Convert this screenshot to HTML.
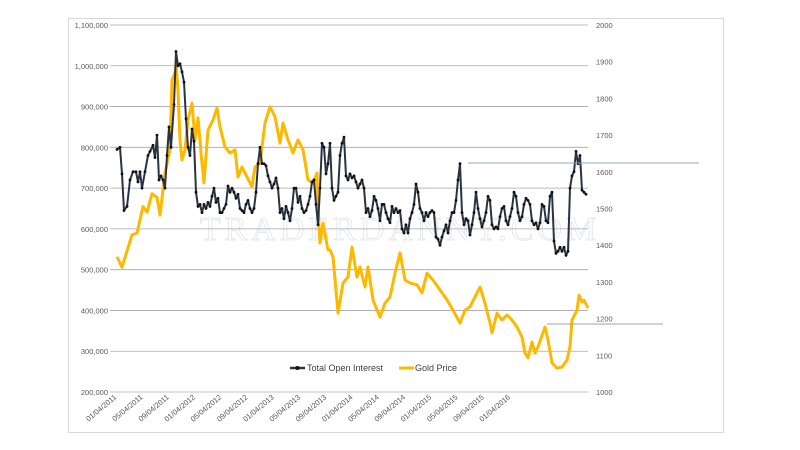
<!DOCTYPE html>
<html><head><meta charset="utf-8"><style>
html,body{margin:0;padding:0;background:#fff;width:800px;height:450px;overflow:hidden;font-family:"Liberation Sans",sans-serif}
</style></head><body>
<svg id="chart" width="800" height="450" xmlns="http://www.w3.org/2000/svg">
<rect x="68.5" y="18.5" width="655" height="414" fill="#fff" stroke="#d9d9d9"/>
<text x="400" y="240" text-anchor="middle" font-family="Liberation Serif, serif" font-size="34" fill="none" stroke="#e6e8ec" stroke-width="1" letter-spacing="4">TRADERDANNY.COM</text>
<g id="grid"></g><g id="axes"></g><g id="series"></g>
<line x1="468" y1="163" x2="699" y2="163" stroke="#8fa8b0" stroke-width="1"/>
<line x1="547" y1="324" x2="663" y2="324" stroke="#8fa8b0" stroke-width="1"/>
<g font-size="9" fill="#404040">
<g><line x1="290" y1="368" x2="305" y2="368" stroke="#2a3342" stroke-width="2.5"/><circle cx="297.5" cy="368" r="2" fill="#111"/><text x="307" y="371">Total Open Interest</text></g>
<g><line x1="399" y1="368" x2="414" y2="368" stroke="#fcb900" stroke-width="3"/><text x="415" y="371">Gold Price</text></g>
</g>
</svg>
<script>
const oiValues=[795,800,735,645,655,720,740,740,715,740,700,740,780,790,805,775,830,720,730,720,700,780,850,800,905,1035,1000,1005,985,960,870,800,780,845,815,690,655,660,640,660,650,665,655,680,700,665,675,640,640,650,660,705,690,700,690,675,685,650,645,640,660,670,650,640,650,690,760,800,760,760,755,730,715,700,710,725,700,640,650,625,655,640,620,650,700,700,665,680,650,640,645,660,680,715,720,660,610,700,810,800,735,760,810,700,670,680,690,780,810,825,730,720,735,725,730,715,700,710,720,700,640,650,630,645,680,670,650,620,660,660,640,625,615,655,640,650,640,645,600,590,610,590,625,640,660,710,690,650,640,620,640,630,640,645,640,580,575,560,580,595,610,590,620,640,640,670,720,760,640,610,625,620,585,610,640,690,650,625,605,620,640,680,670,610,600,605,600,630,650,655,620,610,630,650,690,680,640,620,630,660,675,670,660,620,610,615,600,615,660,655,620,615,680,690,570,540,545,555,545,555,535,545,700,730,740,790,760,780,695,690,685];
// week index of the first (irregularly sampled) open-interest readings; later readings are one week apart
const oiStartWeeks=[0,1.5,2.5,3.5,5,6.5,8,9.5,10.5,11.5,12.5,14,15.5,16.5,18,19,20,21,22,23,24,25,26,27,28.5,29.5];
const goldWeeks=[0,2.5,7.5,10,13,15,17.5,20,21.5,24,26.5,27.5,29,29.5,30.5,31.5,32.5,34,35.5,37.5,39,40.5,42,43.5,45.5,48,50,51.5,54,56.5,59,60.5,62.5,65,67.5,69,71.5,74,76.5,79,81.5,83,85.5,88,90.5,93,95.5,98,100,100.5,101.5,103,105.5,106.5,108,110.5,113,115.5,117.5,120,121.5,124,125.5,128,131.5,134,136.5,139,141.5,144,146.5,150,152.5,155,158,161.5,165,168,171.5,174,176.5,179,181.5,184,186.5,187.5,190,192.5,195,197.5,200,202.5,204,205.5,207.5,209,210.5,214,215.5,217.5,220,222.5,225,226.5,227.5,230,231,232.5,233.5,235.5];
const goldValues=[1368,1340,1428,1433,1505,1490,1540,1530,1482,1597,1660,1850,1870,1890,1823,1687,1632,1660,1741,1787,1687,1747,1651,1570,1714,1741,1774,1722,1668,1651,1660,1586,1613,1586,1559,1613,1624,1733,1777,1750,1678,1733,1687,1651,1687,1660,1578,1569,1597,1504,1406,1460,1387,1387,1368,1215,1297,1313,1395,1313,1341,1286,1341,1251,1204,1242,1259,1324,1379,1305,1297,1292,1270,1324,1305,1278,1251,1223,1188,1223,1232,1259,1286,1242,1188,1161,1215,1196,1210,1196,1177,1150,1106,1093,1136,1106,1123,1177,1142,1079,1065,1068,1087,1123,1196,1223,1264,1245,1250,1229];
const leftTicks=[200,300,400,500,600,700,800,900,1000,1100];
const rightTicks=[1000,1100,1200,1300,1400,1500,1600,1700,1800,1900,2000];
const dateLabels=["01/04/2011","05/04/2011","09/04/2011","01/04/2012","05/04/2012","09/04/2012","01/04/2013","05/04/2013","09/04/2013","01/04/2014","05/04/2014","09/04/2014","01/04/2015","05/04/2015","09/04/2015","01/04/2016"];

const NS="http://www.w3.org/2000/svg";
const X0=117,X1=588,YT=25,YB=392;
const oiWeeks=oiValues.map((v,i)=>i<oiStartWeeks.length?oiStartWeeks[i]:oiStartWeeks[oiStartWeeks.length-1]+(i-oiStartWeeks.length+1));
const maxWeek=Math.max(oiWeeks[oiWeeks.length-1],goldWeeks[goldWeeks.length-1]);
const xScale=w=>X0+(X1-X0)*w/maxWeek;
const yL=v=>YB-(YB-YT)*(v-200)/900;
const yR=v=>YB-(YB-YT)*(v-1000)/1000;
function mk(tag,attrs,parent){const e=document.createElementNS(NS,tag);for(const k in attrs)e.setAttribute(k,attrs[k]);parent.appendChild(e);return e;}
const grid=document.getElementById('grid'),axes=document.getElementById('axes'),ser=document.getElementById('series');
leftTicks.forEach(t=>{
  const y=yL(t);
  const l=mk('line',{x1:110,x2:X1,y1:y,y2:y,stroke:t===200?'#d9d9d9':'#a6a6a6','stroke-width':t===200?1.5:0.8},grid);
  
  
  const tx=mk('text',{x:108,y:y+3,'text-anchor':'end','font-size':7.5,fill:'#595959'},axes);
  tx.textContent=(t*1000).toLocaleString('en-US');
  
  
});
rightTicks.forEach(t=>{
  const tx=mk('text',{x:596,y:yR(t)+3,'font-size':7.5,fill:'#595959'},axes);
  tx.textContent=t;
  
  
});
dateLabels.forEach((d,i)=>{
  const x=X0+i*26.25;
  const tx=mk('text',{x:x,y:398,'text-anchor':'end','font-size':7.5,fill:'#595959',transform:`rotate(-40 ${x} 398)`},axes);
  tx.textContent=d;
  
  
});
const gp=mk('polyline',{points:goldWeeks.map((w,i)=>xScale(w)+','+yR(goldValues[i])).join(' '),fill:'none',stroke:'#fcb900','stroke-width':3,'stroke-linejoin':'round'},ser);


const op=mk('polyline',{points:oiValues.map((v,i)=>xScale(oiWeeks[i])+','+yL(v)).join(' '),fill:'none',stroke:'#2a3342','stroke-width':2,'stroke-linejoin':'round'},ser);


oiValues.forEach((v,i)=>{
  const c=mk('circle',{cx:xScale(oiWeeks[i]),cy:yL(v),r:1.4,fill:'#111'},ser);
  
  
});
</script>
</body></html>
